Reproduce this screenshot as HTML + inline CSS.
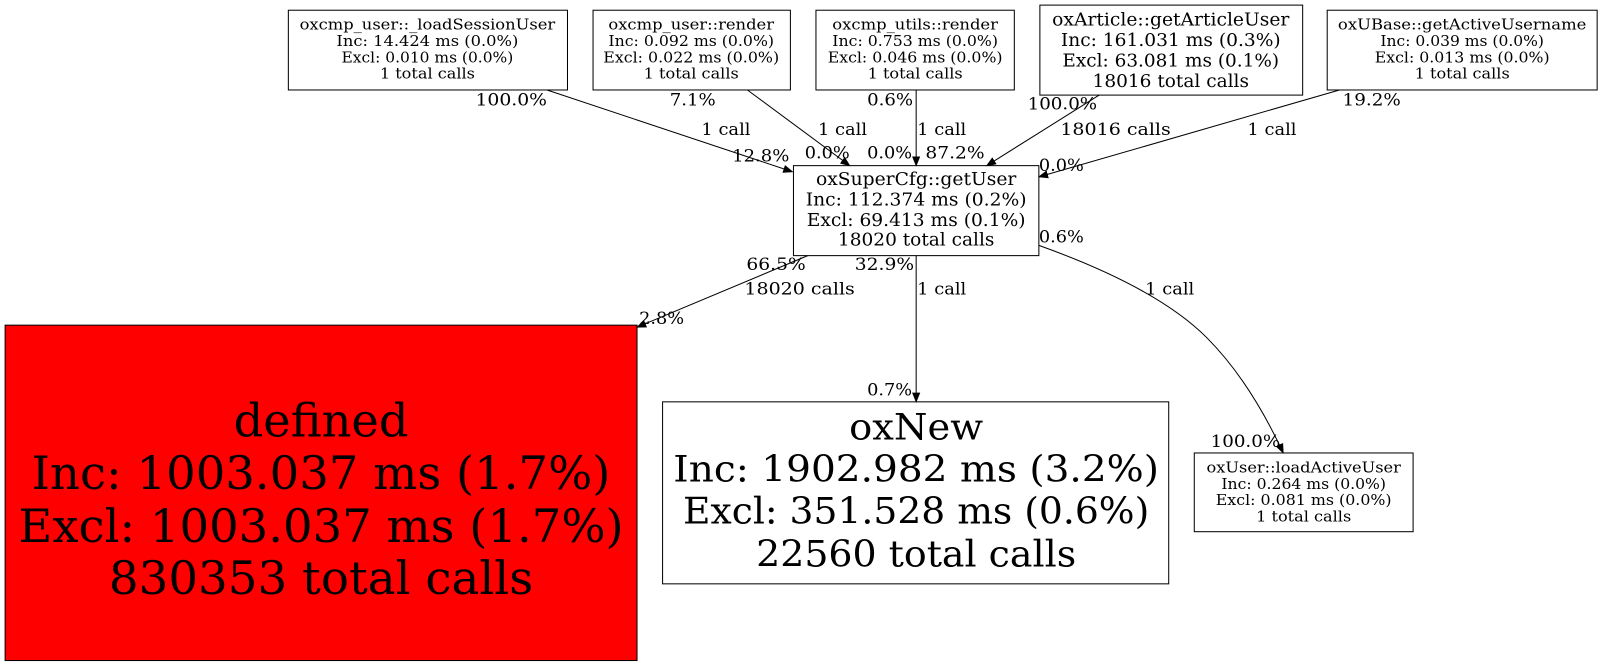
<!DOCTYPE html>
<html><head><meta charset="utf-8"><style>
html,body{margin:0;padding:0;background:#fff;}
svg{display:block;font-family:"DejaVu Serif","Liberation Serif",serif;}
</style></head><body>
<svg width="1603" height="667" viewBox="0 0 1603 667" xmlns="http://www.w3.org/2000/svg">
<defs><marker id="a" markerWidth="10" markerHeight="8" refX="9" refY="4" orient="auto" markerUnits="userSpaceOnUse"><path d="M0,0 L10,4 L0,8 z" fill="#000"/></marker></defs>
<g transform="scale(1.0225)">
<g fill="none" stroke="#000" stroke-width="1">
<rect x="282" y="10" width="273" height="78" fill="#fff"/>
<rect x="580" y="10" width="193" height="78" fill="#fff"/>
<rect x="798" y="10" width="194" height="78" fill="#fff"/>
<rect x="1017" y="5" width="257" height="88" fill="#fff"/>
<rect x="1298" y="10" width="264" height="78" fill="#fff"/>
<rect x="776" y="162" width="240" height="88" fill="#fff"/>
<rect x="5" y="318" width="618" height="328" fill="#ff0000"/>
<rect x="648" y="393" width="495" height="178" fill="#fff"/>
<rect x="1168" y="443" width="214" height="77" fill="#fff"/>
<path d="M535,88 L775,168" marker-end="url(#a)"/>
<path d="M731,88 L831,162" marker-end="url(#a)"/>
<path d="M896,88 L896,162" marker-end="url(#a)"/>
<path d="M1075,93 L965,162" marker-end="url(#a)"/>
<path d="M1310,88 L1016,173" marker-end="url(#a)"/>
<path d="M790,250 L623,320" marker-end="url(#a)"/>
<path d="M896,250 L896,393" marker-end="url(#a)"/>
<path d="M1016,240 C1100,270 1150,300 1180,330 C1210,360 1235,400 1255,443" marker-end="url(#a)"/>
</g>
<g text-anchor="middle" font-size="15" lengthAdjust="spacingAndGlyphs">
<text x="418" y="29" textLength="250" lengthAdjust="spacingAndGlyphs">oxcmp_user::_loadSessionUser</text><text x="418" y="45" textLength="178" lengthAdjust="spacingAndGlyphs">Inc: 14.424 ms (0.0%)</text><text x="418" y="61" textLength="168" lengthAdjust="spacingAndGlyphs">Excl: 0.010 ms (0.0%)</text><text x="418" y="77" textLength="93" lengthAdjust="spacingAndGlyphs">1 total calls</text>
<text x="676" y="29" textLength="162" lengthAdjust="spacingAndGlyphs">oxcmp_user::render</text><text x="676" y="45" textLength="162" lengthAdjust="spacingAndGlyphs">Inc: 0.092 ms (0.0%)</text><text x="676" y="61" textLength="172" lengthAdjust="spacingAndGlyphs">Excl: 0.022 ms (0.0%)</text><text x="676" y="77" textLength="93" lengthAdjust="spacingAndGlyphs">1 total calls</text>
<text x="895" y="29" textLength="162" lengthAdjust="spacingAndGlyphs">oxcmp_utils::render</text><text x="895" y="45" textLength="162" lengthAdjust="spacingAndGlyphs">Inc: 0.753 ms (0.0%)</text><text x="895" y="61" textLength="171" lengthAdjust="spacingAndGlyphs">Excl: 0.046 ms (0.0%)</text><text x="895" y="77" textLength="93" lengthAdjust="spacingAndGlyphs">1 total calls</text>
<text x="1430" y="29" textLength="243" lengthAdjust="spacingAndGlyphs">oxUBase::getActiveUsername</text><text x="1430" y="45" textLength="160" lengthAdjust="spacingAndGlyphs">Inc: 0.039 ms (0.0%)</text><text x="1430" y="61" textLength="171" lengthAdjust="spacingAndGlyphs">Excl: 0.013 ms (0.0%)</text><text x="1430" y="77" textLength="93" lengthAdjust="spacingAndGlyphs">1 total calls</text>
<text x="1275" y="462" textLength="190" lengthAdjust="spacingAndGlyphs">oxUser::loadActiveUser</text><text x="1275" y="478" textLength="161" lengthAdjust="spacingAndGlyphs">Inc: 0.264 ms (0.0%)</text><text x="1275" y="494" textLength="172" lengthAdjust="spacingAndGlyphs">Excl: 0.081 ms (0.0%)</text><text x="1275" y="510" textLength="93" lengthAdjust="spacingAndGlyphs">1 total calls</text>
</g>
<g text-anchor="middle" font-size="17">
<text x="1145" y="25" textLength="232" lengthAdjust="spacingAndGlyphs">oxArticle::getArticleUser</text><text x="1145" y="45" textLength="215" lengthAdjust="spacingAndGlyphs">Inc: 161.031 ms (0.3%)</text><text x="1145" y="65" textLength="212" lengthAdjust="spacingAndGlyphs">Excl: 63.081 ms (0.1%)</text><text x="1145" y="85" textLength="153" lengthAdjust="spacingAndGlyphs">18016 total calls</text>
<text x="896" y="181" textLength="196" lengthAdjust="spacingAndGlyphs">oxSuperCfg::getUser</text><text x="896" y="201" textLength="216" lengthAdjust="spacingAndGlyphs">Inc: 112.374 ms (0.2%)</text><text x="896" y="221" textLength="214" lengthAdjust="spacingAndGlyphs">Excl: 69.413 ms (0.1%)</text><text x="896" y="240" textLength="153" lengthAdjust="spacingAndGlyphs">18020 total calls</text>
</g>
<g text-anchor="middle" font-size="45">
<text x="314" y="427" textLength="171" lengthAdjust="spacingAndGlyphs">defined</text><text x="314" y="478" textLength="566" lengthAdjust="spacingAndGlyphs">Inc: 1003.037 ms (1.7%)</text><text x="314" y="530" textLength="592" lengthAdjust="spacingAndGlyphs">Excl: 1003.037 ms (1.7%)</text><text x="314" y="581" textLength="415" lengthAdjust="spacingAndGlyphs">830353 total calls</text>
</g>
<g text-anchor="middle" font-size="36">
<text x="896" y="430" textLength="131" lengthAdjust="spacingAndGlyphs">oxNew</text><text x="896" y="471" textLength="475" lengthAdjust="spacingAndGlyphs">Inc: 1902.982 ms (3.2%)</text><text x="896" y="512" textLength="456" lengthAdjust="spacingAndGlyphs">Excl: 351.528 ms (0.6%)</text><text x="896" y="554" textLength="313" lengthAdjust="spacingAndGlyphs">22560 total calls</text>
</g>
<g font-size="16">
<text x="465" y="103" textLength="70" lengthAdjust="spacingAndGlyphs">100.0%</text><text x="686" y="132" textLength="48" lengthAdjust="spacingAndGlyphs">1 call</text><text x="716" y="158" textLength="56" lengthAdjust="spacingAndGlyphs">12.8%</text>
<text x="655" y="103" textLength="45" lengthAdjust="spacingAndGlyphs">7.1%</text><text x="800" y="132" textLength="48" lengthAdjust="spacingAndGlyphs">1 call</text><text x="787" y="155" textLength="44" lengthAdjust="spacingAndGlyphs">0.0%</text>
<text x="848" y="103" textLength="45" lengthAdjust="spacingAndGlyphs">0.6%</text><text x="897" y="132" textLength="48" lengthAdjust="spacingAndGlyphs">1 call</text><text x="848" y="155" textLength="44" lengthAdjust="spacingAndGlyphs">0.0%</text><text x="905" y="155" textLength="58" lengthAdjust="spacingAndGlyphs">87.2%</text>
<text x="1005" y="107" textLength="68" lengthAdjust="spacingAndGlyphs">100.0%</text><text x="1037" y="132" textLength="108" lengthAdjust="spacingAndGlyphs">18016 calls</text>
<text x="1313" y="103" textLength="57" lengthAdjust="spacingAndGlyphs">19.2%</text><text x="1220" y="132" textLength="48" lengthAdjust="spacingAndGlyphs">1 call</text><text x="1016" y="167" textLength="44" lengthAdjust="spacingAndGlyphs">0.0%</text>
<text x="730" y="264" textLength="58" lengthAdjust="spacingAndGlyphs">66.5%</text><text x="728" y="288" textLength="108" lengthAdjust="spacingAndGlyphs">18020 calls</text><text x="625" y="317" textLength="44" lengthAdjust="spacingAndGlyphs">2.8%</text>
<text x="836" y="264" textLength="58" lengthAdjust="spacingAndGlyphs">32.9%</text><text x="897" y="288" textLength="48" lengthAdjust="spacingAndGlyphs">1 call</text><text x="848" y="387" textLength="44" lengthAdjust="spacingAndGlyphs">0.7%</text>
<text x="1016" y="237" textLength="44" lengthAdjust="spacingAndGlyphs">0.6%</text><text x="1120" y="288" textLength="48" lengthAdjust="spacingAndGlyphs">1 call</text><text x="1184" y="437" textLength="68" lengthAdjust="spacingAndGlyphs">100.0%</text>
</g>
</g>
</svg>
</body></html>
